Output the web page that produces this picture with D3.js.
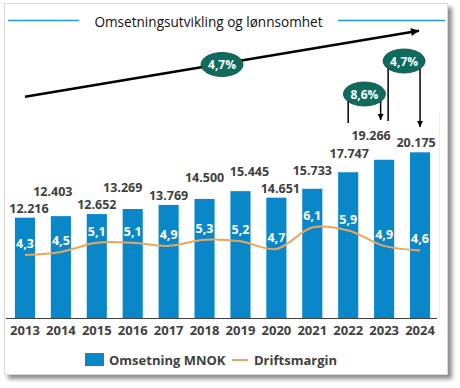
<!DOCTYPE html>
<html lang="no">
<head>
  <meta charset="UTF-8" />
  <title>Omsetningsutvikling og lønnsomhet</title>
  <style>
    body {
      margin: 0;
      background-color: #fff;
      font-family: "Open Sans", sans-serif;
    }

    svg {
      display: block;
    }

    .val {
      font-size: 12.5px;
      font-weight: 700;
      fill: #404040;
    }

    .pct {
      font-size: 12.5px;
      font-weight: 700;
      fill: #fff;
    }
  </style>
</head>
<body>
  <svg width="460" height="388"></svg>

  <script src="https://d3js.org/d3.v7.min.js"></script>
  <script>
    // data
    const years = ["2013", "2014", "2015", "2016", "2017", "2018", "2019", "2020", "2021", "2022", "2023", "2024"];
    const omsetning = [12216, 12403, 12652, 13269, 13769, 14500, 15445, 14651, 15733, 17747, 19266, 20175];
    const margin = [4.3, 4.5, 5.1, 5.1, 4.9, 5.3, 5.2, 4.7, 6.1, 5.9, 4.9, 4.6];
    const growthTotal = "4,7%";
    const growthSteps = [
      { from: "2022", to: "2023", label: "8,6%" },
      { from: "2023", to: "2024", label: "4,7%" }
    ];

    // hand placed value labels (nudges so they don't collide)
    const labelRaise = [9, 25, 10, 22, 9, 21, 20, 9, 18, 19, 24, 10];
    const labelShift = [4, -8, 0, -10, 0, 0, 9, 4, 0, 1, -13, -4];

    const fmt = v => d3.format(",")(v).replace(/,/g, ".");
    const fmtPct = v => d3.format(".1f")(v).replace(".", ",");

    const svg = d3.select("svg");

    // panel with shadow
    const defs = svg.append("defs");
    const sh = defs.append("filter").attr("id", "shadow")
      .attr("x", "-5%").attr("y", "-5%").attr("width", "115%").attr("height", "115%");
    sh.append("feDropShadow")
      .attr("dx", 4).attr("dy", 4).attr("stdDeviation", 2.2)
      .attr("flood-color", "#000").attr("flood-opacity", 0.45);

    svg.append("rect")
      .attr("x", 4.5).attr("y", 3.5)
      .attr("width", 443).attr("height", 371)
      .attr("fill", "#fff")
      .attr("stroke", "#d9d9d9")
      .attr("filter", "url(#shadow)");

    // title
    svg.append("text")
      .attr("x", 208.5).attr("y", 26.5)
      .attr("text-anchor", "middle")
      .style("font-size", "13.6px")
      .style("fill", "#111")
      .text("Omsetningsutvikling og lønnsomhet");

    svg.append("line").attr("x1", 8).attr("x2", 79).attr("y1", 20.5).attr("y2", 20.5)
      .attr("stroke", "#1e9ad8").attr("stroke-width", 1.5);
    svg.append("line").attr("x1", 338).attr("x2", 445).attr("y1", 20.5).attr("y2", 20.5)
      .attr("stroke", "#1e9ad8").attr("stroke-width", 1.5);

    // scales
    const x = d3.scaleBand()
      .domain(years)
      .range([7, 438])
      .paddingInner(0.44)
      .paddingOuter(0.22);

    const y = d3.scaleLinear()
      .domain([0, 20175])
      .range([318, 152.3]);

    const y2 = d3.scaleLinear()
      .domain([0, 12])
      .range([321, 137]);

    const cx = d => x(d) + x.bandwidth() / 2;

    // faint right edge of plot area
    svg.append("line")
      .attr("x1", 439.5).attr("x2", 439.5)
      .attr("y1", 112).attr("y2", 318)
      .attr("stroke", "#ececec");

    // bars
    svg.append("g")
      .selectAll("rect")
      .data(omsetning)
      .join("rect")
      .attr("x", (d, i) => x(years[i]))
      .attr("y", d => y(d))
      .attr("width", x.bandwidth())
      .attr("height", d => y(0) - y(d))
      .attr("fill", "#0a87c9");

    // bar labels
    svg.append("g")
      .selectAll("text")
      .data(omsetning)
      .join("text")
      .attr("class", "val")
      .attr("text-anchor", "middle")
      .attr("x", (d, i) => cx(years[i]) + labelShift[i])
      .attr("y", (d, i) => y(d) - labelRaise[i] + 4.5)
      .text(d => fmt(d));

    // margin line
    const line = d3.line()
      .x((d, i) => cx(years[i]))
      .y(d => y2(d))
      .curve(d3.curveCatmullRom.alpha(0.5));

    svg.append("path")
      .datum(margin)
      .attr("d", line)
      .attr("fill", "none")
      .attr("stroke", "#eea55a")
      .attr("stroke-width", 2);

    svg.append("g")
      .selectAll("text")
      .data(margin)
      .join("text")
      .attr("class", "pct")
      .attr("text-anchor", "middle")
      .attr("x", (d, i) => cx(years[i]))
      .attr("y", d => y2(d) - 7)
      .text(d => fmtPct(d));

    // x axis
    const xAxis = svg.append("g")
      .attr("transform", "translate(0,318)")
      .call(d3.axisBottom(x).tickSize(0).tickPadding(8));
    xAxis.select(".domain")
      .attr("d", "M6,0.5H437")
      .attr("stroke", "#404040");
    xAxis.selectAll("text")
      .style("font-family", "Open Sans, sans-serif")
      .style("font-size", "13px")
      .style("font-weight", 700)
      .attr("fill", "#404040");

    // growth arrows
    defs.append("marker")
      .attr("id", "head")
      .attr("viewBox", "0 0 10 10")
      .attr("refX", 10).attr("refY", 5)
      .attr("markerWidth", 6).attr("markerHeight", 6)
      .attr("markerUnits", "userSpaceOnUse")
      .attr("orient", "auto")
      .append("path").attr("d", "M0,0L10,5L0,10Z").attr("fill", "#000");

    defs.append("marker")
      .attr("id", "bighead")
      .attr("viewBox", "0 0 10 10")
      .attr("refX", 10).attr("refY", 5)
      .attr("markerWidth", 11).attr("markerHeight", 8)
      .attr("markerUnits", "userSpaceOnUse")
      .attr("orient", "auto")
      .append("path").attr("d", "M0,0L10,5L0,10Z").attr("fill", "#000");

    svg.append("line")
      .attr("x1", 25).attr("y1", 96.7)
      .attr("x2", 419).attr("y2", 30.7)
      .attr("stroke", "#000")
      .attr("stroke-width", 2.5)
      .attr("marker-end", "url(#bighead)");

    function bubble(cxp, cyp, label) {
      svg.append("ellipse")
        .attr("cx", cxp).attr("cy", cyp)
        .attr("rx", 21).attr("ry", 12)
        .attr("fill", "#0f6b5d")
        .attr("stroke", "#0a4a40")
        .attr("stroke-width", 0.8);
      svg.append("text")
        .attr("class", "pct")
        .attr("x", cxp).attr("y", cyp + 4.5)
        .attr("text-anchor", "middle")
        .style("font-size", "12px")
        .text(label);
    }

    bubble(222, 64.5, growthTotal);

    // year-on-year brackets
    const bracketTop = [94, 61];
    const bracketBottom = [[123, 120], [121, 127]];
    growthSteps.forEach((g, k) => {
      const xa = cx(g.from) + (k === 0 ? 0 : 4);
      const xb = cx(g.to) - (k === 0 ? 3.5 : 0);
      const top = bracketTop[k];
      svg.append("line")
        .attr("x1", xa).attr("x2", xa)
        .attr("y1", top).attr("y2", bracketBottom[k][0])
        .attr("stroke", "#000").attr("stroke-width", 1.5);
      svg.append("line")
        .attr("x1", xb).attr("x2", xb)
        .attr("y1", top).attr("y2", bracketBottom[k][1])
        .attr("stroke", "#000").attr("stroke-width", 1.5)
        .attr("marker-end", "url(#head)");
      bubble((xa + xb) / 2, top, g.label);
    });

    // legend
    const legend = svg.append("g").attr("transform", "translate(0,360)");
    legend.append("rect")
      .attr("x", 85).attr("y", -7)
      .attr("width", 19).attr("height", 13)
      .attr("fill", "#0a87c9");
    legend.append("text")
      .attr("class", "val")
      .style("font-size", "13px")
      .attr("x", 109).attr("y", 4.5)
      .text("Omsetning MNOK");
    legend.append("line")
      .attr("x1", 232).attr("x2", 248)
      .attr("y1", 0).attr("y2", 0)
      .attr("stroke", "#eea55a").attr("stroke-width", 2);
    legend.append("text")
      .attr("class", "val")
      .style("font-size", "13px")
      .attr("x", 254).attr("y", 4.5)
      .text("Driftsmargin");
  </script>
</body>
</html>
